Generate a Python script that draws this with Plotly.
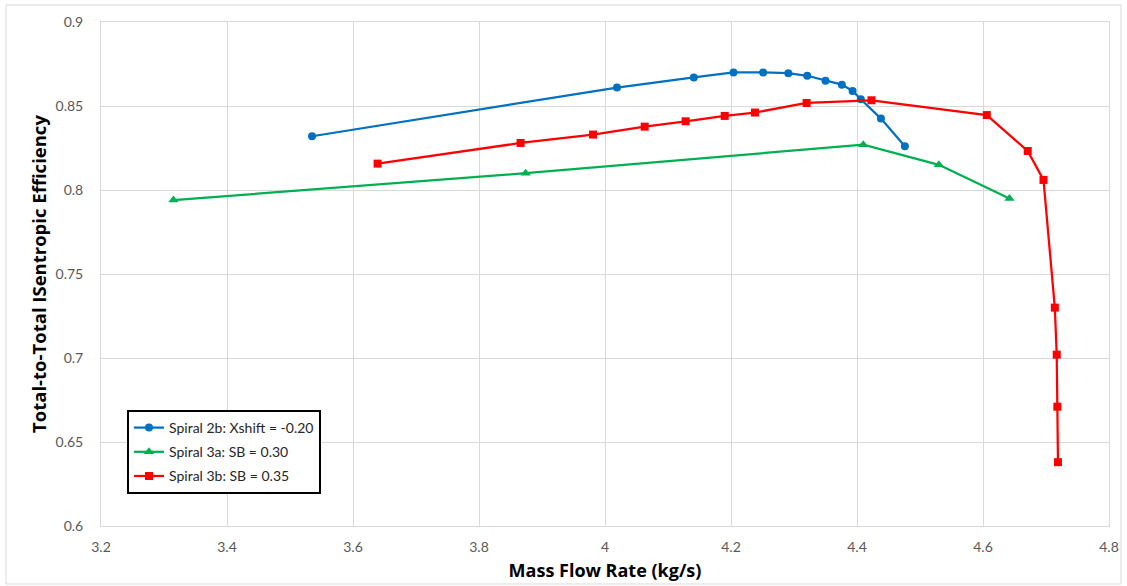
import plotly.graph_objects as go

# Data
blue_name = "Spiral 2b: Xshift = -0.20"
blue_x = [3.535, 4.019, 4.141, 4.204, 4.251, 4.291, 4.321, 4.350, 4.376, 4.393, 4.406, 4.438, 4.476]
blue_y = [0.832, 0.861, 0.867, 0.870, 0.870, 0.8695, 0.868, 0.865, 0.8627, 0.859, 0.854, 0.8425, 0.826]

green_name = "Spiral 3a: SB = 0.30"
green_x = [3.315, 3.874, 4.410, 4.530, 4.642]
green_y = [0.794, 0.810, 0.827, 0.815, 0.795]

red_name = "Spiral 3b: SB = 0.35"
red_x = [3.639, 3.866, 3.981, 4.063, 4.128, 4.190, 4.238, 4.320, 4.423, 4.606, 4.671, 4.696, 4.714, 4.717, 4.718, 4.719]
red_y = [0.8157, 0.828, 0.833, 0.8377, 0.8409, 0.8441, 0.8461, 0.8518, 0.8534, 0.8446, 0.8232, 0.806, 0.730, 0.702, 0.671, 0.638]

x_title = "Mass Flow Rate (kg/s)"
y_title = "Total-to-Total ISentropic Efficiency"

FONT = "Lato"
TFONT = "Open Sans"
fig = go.Figure()
fig.add_trace(go.Scatter(x=blue_x, y=blue_y, name=blue_name, mode="lines+markers", legendgroup="a",
                         line=dict(color="#0070C0", width=2.25),
                         marker=dict(symbol="circle", size=8, color="#0070C0")))
fig.add_trace(go.Scatter(x=green_x, y=green_y, name=green_name, mode="lines+markers", legendgroup="b",
                         line=dict(color="#00B050", width=2.25),
                         marker=dict(symbol="triangle-up", size=9, color="#00B050")))
fig.add_trace(go.Scatter(x=red_x, y=red_y, name=red_name, mode="lines+markers", legendgroup="c",
                         line=dict(color="#FF0000", width=2.25),
                         marker=dict(symbol="square", size=8, color="#FF0000")))

L, R, T, B = 101, 18, 22, 60
W, H = 1127, 586
pw, ph = W - L - R, H - T - B

fig.update_layout(
    width=W, height=H,
    margin=dict(l=L, r=R, t=T, b=B, autoexpand=False),
    paper_bgcolor="white", plot_bgcolor="white",
    font=dict(family=FONT, size=14, color="#595959"),
    showlegend=True,
    legend=dict(x=(127 - L) / pw, y=(H - B - 410) / ph, xanchor="left", yanchor="top",
                bgcolor="white", bordercolor="#000000", borderwidth=2,
                font=dict(family=FONT, size=14, color="#262626"),
                tracegroupgap=3, itemwidth=30, traceorder="grouped"),
    xaxis=dict(range=[3.2, 4.8], dtick=0.2, tick0=3.2, showgrid=True, gridcolor="#d9d9d9",
               gridwidth=1, zeroline=False, showline=True, linecolor="#d9d9d9", linewidth=1,
               mirror=True, ticks="", ticklabelstandoff=8,
               title=dict(text=x_title, font=dict(family=TFONT, size=18, color="#000000", weight="bold"),
                          standoff=10)),
    yaxis=dict(range=[0.6, 0.9], dtick=0.05, tick0=0.6, showgrid=True, gridcolor="#d9d9d9",
               gridwidth=1, zeroline=False, showline=True, linecolor="#d9d9d9", linewidth=1,
               mirror=True, ticks="", ticklabelstandoff=14,
               title=dict(text=y_title, font=dict(family=TFONT, size=18.5, color="#000000", weight="bold"),
                          standoff=4)),
    shapes=[dict(type="rect", xref="paper", yref="paper",
                 x0=(6 - L) / pw, x1=(1121 - L) / pw,
                 y0=(H - B - 584) / ph, y1=(H - B - 5) / ph,
                 line=dict(color="#d9d9d9", width=1), fillcolor="rgba(0,0,0,0)", layer="below")],
)

fig.write_html("out.html", config={"displayModeBar": False},
               post_script="document.body.style.margin='0px';document.body.style.overflow='hidden';")
